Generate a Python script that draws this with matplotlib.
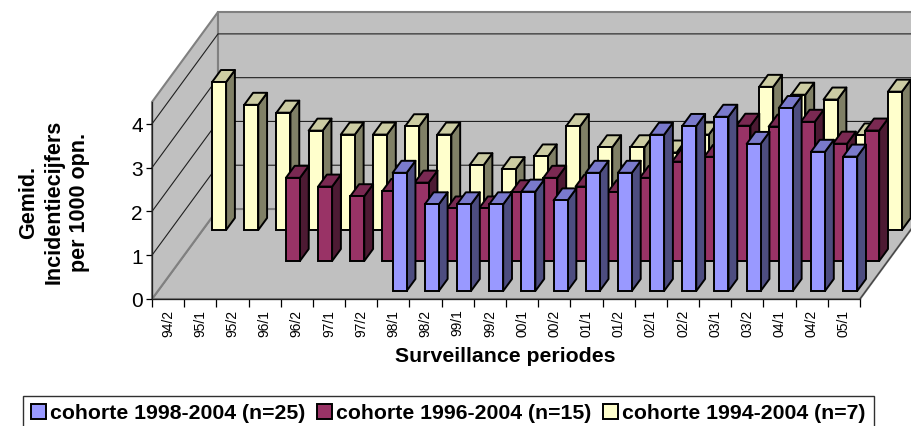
#!/usr/bin/env python3
import matplotlib
matplotlib.use('Agg')
import matplotlib.pyplot as plt
from matplotlib.patches import Polygon, Patch

plt.rcParams['font.family'] = ['Liberation Sans', 'DejaVu Sans']

periods = ['94/2', '95/1', '95/2', '96/1', '96/2', '97/1', '97/2', '98/1', '98/2', '99/1', '99/2',
           '00/1', '00/2', '01/1', '01/2', '02/1', '02/2', '03/1', '03/2', '04/1', '04/2', '05/1']

# leading None = cohort not started yet
cohort_1994 = [3.38, 2.86, 2.68, 2.27, 2.18, 2.18, 2.37, 2.18, 1.48, 1.39, 1.68,
               2.37, 1.89, 1.89, 1.77, 2.18, 2.2, 3.27, 3.09, 2.98, 2.16, 3.16]
cohort_1996 = [None, None, None, 1.9, 1.7, 1.48, 1.6, 1.79, 1.2, 1.2, 1.57,
               1.9, 1.7, 1.57, 1.9, 2.27, 2.38, 3.09, 3.07, 3.18, 2.68, 2.98]
cohort_1998 = [None, None, None, None, None, None, None, 2.7, 1.98, 1.98, 1.98,
               2.27, 2.07, 2.7, 2.7, 3.57, 3.77, 3.98, 3.36, 4.18, 3.18, 3.07]
names = ['cohorte 1998-2004 (n=25)', 'cohorte 1996-2004 (n=15)', 'cohorte 1994-2004 (n=7)']

W, H = 912, 427
fig = plt.figure(figsize=(W / 100, H / 100), dpi=100)
ax = fig.add_axes([152 / W, (H - 300) / H, 708 / W, 197 / H])
ax.set_xlim(0, 22)
ax.set_ylim(0, 4.5)

# oblique depth: full floor depth in data units
DX = 66 / (708 / 22)
DY = 90 / (197 / 4.5)


def proj(x, y, d):
    return x + d * DX, y + d * DY


def face(pts, d, **kw):
    p = Polygon([proj(x, y, dd + d) for x, y, dd in pts], closed=True, clip_on=False, **kw)
    ax.add_patch(p)


# walls and floor
wall = '#c0c0c0'
edge = '#808080'
face([(0, 0, 0), (0, 0, 1), (22, 0, 1), (22, 0, 0)], 0, fc=wall, ec=edge, lw=1.5, zorder=1)
face([(0, 0, 0), (0, 4.5, 0), (0, 4.5, 1), (0, 0, 1)], 0, fc=wall, ec=edge, lw=1.5, zorder=1)
face([(0, 0, 1), (0, 4.5, 1), (22, 4.5, 1), (22, 0, 1)], 0, fc=wall, ec=edge, lw=1.5, zorder=1)
for v in [1, 2, 3, 4]:
    x0, y0 = proj(0, v, 0)
    x1, y1 = proj(0, v, 1)
    x2, y2 = proj(22, v, 1)
    ax.plot([x0, x1, x2], [y0, y1, y2], color='#202020', lw=0.8, zorder=2, clip_on=False)
# floor right edge is thin and dark
x0, y0 = proj(22, 0, 0)
x1, y1 = proj(22, 0, 1)
ax.plot([x0, x1], [y0, y1], color='#404040', lw=0.8, zorder=2, clip_on=False)

BAR_L = 9.5 / (708 / 22)
BAR_W = 14 / (708 / 22)
BAR_D = 12 / 90
series = [
    (cohort_1994, 69 / 90, '#ffffcc', '#ccccA3', '#808066'),
    (cohort_1996, 38 / 90, '#993366', '#7a2952', '#4d1a33'),
    (cohort_1998, 8 / 90, '#9999ff', '#7a7acc', '#4d4d80'),
]
z = 3
for vals, d, col, top, side in series:
    for i, v in enumerate(vals):
        if v is None:
            continue
        l = i + BAR_L
        r = l + BAR_W
        kw = dict(ec='black', lw=1.4, joinstyle='round')
        face([(r, 0, 0), (r, v, 0), (r, v, BAR_D), (r, 0, BAR_D)], d, fc=side, zorder=z, **kw)
        face([(l, v, 0), (r, v, 0), (r, v, BAR_D), (l, v, BAR_D)], d, fc=top, zorder=z, **kw)
        fx, fy = proj(l, 0, d)
        ax.bar(fx, v, BAR_W, bottom=fy, align='edge', fc=col, ec='black', lw=1.4, zorder=z, clip_on=False)
        z += 1

for s in ['top', 'right']:
    ax.spines[s].set_visible(False)
for s in ['left', 'bottom']:
    ax.spines[s].set_linewidth(0.9)
    ax.spines[s].set_color('#202020')
    ax.spines[s].set_zorder(2)

ax.set_yticks([0, 1, 2, 3, 4])
ax.tick_params(axis='y', labelsize=15, length=4.5, width=0.9, pad=2)
ax.set_xticks(range(23))
ax.set_xticks([i + 0.5 for i in range(22)], minor=True)
ax.set_xticklabels([])
ax.set_xticklabels(periods, minor=True, rotation=90, fontsize=10)
ax.tick_params(axis='x', which='major', length=6, width=0.9)
ax.tick_params(axis='x', which='minor', length=0, pad=7)

fig.text(505 / W, 1 - 357 / H, 'Surveillance periodes', fontsize=15.3, fontweight='bold', ha='center', va='center')
fig.text(54.5 / W, 1 - 202 / H, 'Gemid.\nIncidentiecijfers\nper 1000 opn.', fontsize=15.5, fontweight='bold',
         rotation=90, ha='center', va='center', linespacing=1.28)

handles = [Patch(fc=c, ec='black', lw=1.4) for c in ['#9999ff', '#993366', '#ffffcc']]
fig.legend(handles, names, loc='center', bbox_to_anchor=(448.5 / W, 1 - 414 / H), ncol=3, frameon=True,
           fancybox=False, edgecolor='#303030', framealpha=1, handlelength=0.7, handleheight=0.7,
           handletextpad=0.19, columnspacing=0.56, borderaxespad=0, borderpad=0.37,
           prop={'weight': 'bold', 'size': 15.3})

fig.savefig('out.png', dpi=100)
